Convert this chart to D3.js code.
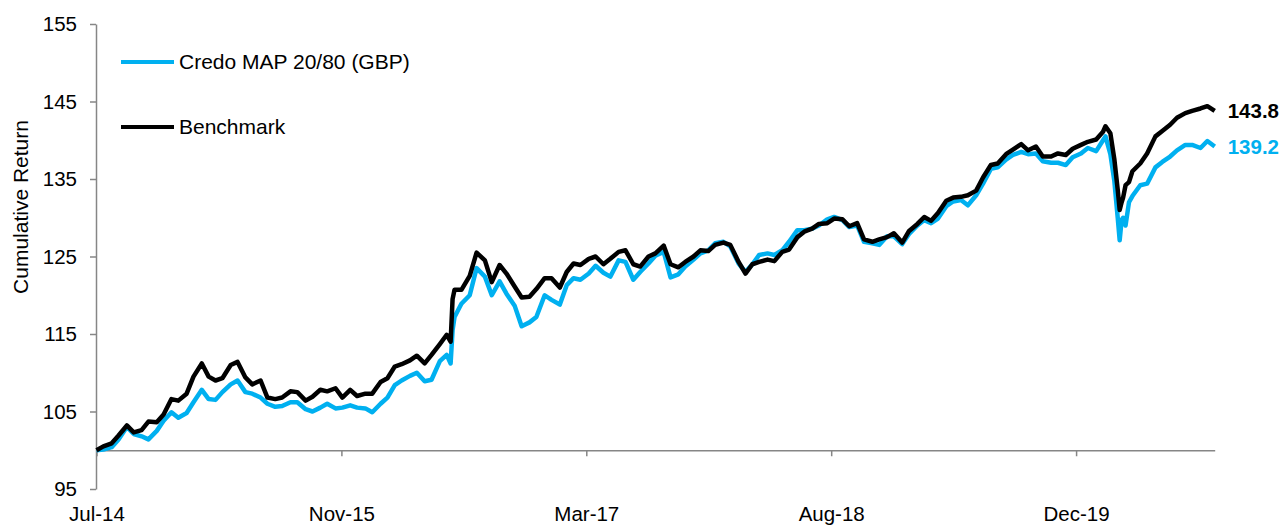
<!DOCTYPE html>
<html>
<head>
<meta charset="utf-8">
<script src="https://cdn.jsdelivr.net/npm/d3@7"></script>
<style>
  body { margin: 0; background: #fff; }
  svg { display: block; font-family: "Liberation Sans", Arial, sans-serif; }
</style>
</head>
<body>
<main></main>
<script>
// semi-monthly observations, with a few extra days around Brexit and the 2020 sell-off
const dates = [
  "2014-07-01","2014-07-15","2014-08-01","2014-08-15","2014-09-01","2014-09-15","2014-10-01","2014-10-15","2014-11-01","2014-11-15","2014-12-01","2014-12-15",
  "2015-01-01","2015-01-15","2015-02-01","2015-02-15","2015-03-01","2015-03-15","2015-04-01","2015-04-15","2015-05-01","2015-05-15","2015-06-01","2015-06-15",
  "2015-07-01","2015-07-15","2015-08-01","2015-08-15","2015-09-01","2015-09-15","2015-10-01","2015-10-15","2015-11-01","2015-11-15","2015-12-01","2015-12-15",
  "2016-01-01","2016-01-15","2016-02-01","2016-02-15","2016-03-01","2016-03-15","2016-04-01","2016-04-15","2016-05-01","2016-05-15","2016-06-01","2016-06-15",
  "2016-06-23","2016-06-27",
  "2016-07-01","2016-07-15","2016-08-01","2016-08-15","2016-09-01","2016-09-15","2016-10-01","2016-10-15","2016-11-01","2016-11-15","2016-12-01","2016-12-15",
  "2017-01-01","2017-01-15","2017-02-01","2017-02-15","2017-03-01","2017-03-15","2017-04-01","2017-04-15","2017-05-01","2017-05-15","2017-06-01","2017-06-15",
  "2017-07-01","2017-07-15","2017-08-01","2017-08-15","2017-09-01","2017-09-15","2017-10-01","2017-10-15","2017-11-01","2017-11-15","2017-12-01","2017-12-15",
  "2018-01-01","2018-01-15","2018-02-01","2018-02-15","2018-03-01","2018-03-15","2018-04-01","2018-04-15","2018-05-01","2018-05-15","2018-06-01","2018-06-15",
  "2018-07-01","2018-07-15","2018-08-01","2018-08-15","2018-09-01","2018-09-15","2018-10-01","2018-10-15","2018-11-01","2018-11-15","2018-12-01","2018-12-15",
  "2019-01-01","2019-01-15","2019-02-01","2019-02-15","2019-03-01","2019-03-15","2019-04-01","2019-04-15","2019-05-01","2019-05-15","2019-06-01","2019-06-15",
  "2019-07-01","2019-07-15","2019-08-01","2019-08-15","2019-09-01","2019-09-15","2019-10-01","2019-10-15","2019-11-01","2019-11-15","2019-12-01","2019-12-15",
  "2020-01-01","2020-01-15","2020-02-01","2020-02-15","2020-02-20","2020-03-01","2020-03-09","2020-03-16","2020-03-20","2020-03-24","2020-03-27",
  "2020-04-01","2020-04-08","2020-04-15","2020-05-01","2020-05-15","2020-06-01","2020-06-15","2020-07-01","2020-07-15","2020-08-01","2020-08-15",
  "2020-09-01","2020-09-15","2020-09-30"
];

const fund = [
  100.0, 100.1, 100.4, 101.4, 103.0, 102.1, 101.8, 101.4, 102.5, 103.8, 104.9, 104.2,
  104.8, 106.2, 107.8, 106.6, 106.5, 107.5, 108.5, 109.0, 107.5, 107.3, 106.8, 106.0,
  105.6, 105.7, 106.2, 106.2, 105.3, 105.0, 105.5, 106.0, 105.4, 105.5, 105.8, 105.5,
  105.4, 104.9, 106.0, 106.8, 108.4, 109.0, 109.6, 110.0, 108.9, 109.1, 111.5, 112.3,
  111.2, 115.5,
  117.2, 118.9, 120.0, 123.5, 122.4, 120.0, 121.8, 120.2, 118.6, 116.0, 116.5, 117.2,
  120.0, 119.4, 118.8, 121.3, 122.2, 122.0, 122.8, 123.8, 122.9, 122.4, 124.5, 124.3,
  122.0, 123.0, 124.1, 125.1, 125.6, 122.3, 122.7, 123.7, 124.6, 125.4, 125.8, 126.7,
  126.9, 126.3, 124.1, 123.0, 124.0, 125.2, 125.4, 125.2, 125.8, 126.9, 128.4, 128.4,
  128.6, 129.0, 129.8, 130.1, 129.7, 128.8, 129.0, 126.9, 126.7, 126.5, 127.6, 127.6,
  126.6, 127.9, 129.0, 129.7, 129.3, 129.9, 131.5, 132.1, 132.3, 131.6, 132.9, 134.4,
  136.3, 136.5, 137.5, 138.1, 138.5, 138.2, 138.3, 137.3, 137.1, 137.1, 136.8, 137.8,
  138.3, 139.0, 138.6, 140.0, 140.5, 138.2, 134.8, 130.0, 127.1, 129.7, 130.0,
  129.0, 132.0, 132.8, 134.2, 134.4, 136.5, 137.2, 137.9, 138.7, 139.4, 139.4,
  139.0, 139.9, 139.2
];

const benchmark = [
  100.0, 100.5, 100.9, 101.9, 103.2, 102.3, 102.6, 103.7, 103.6, 104.6, 106.6, 106.4,
  107.3, 109.5, 111.2, 109.5, 109.0, 109.3, 111.0, 111.4, 109.4, 108.5, 109.0, 106.8,
  106.6, 106.8, 107.6, 107.5, 106.4, 106.9, 107.8, 107.6, 108.0, 106.8, 107.8, 107.0,
  107.3, 107.3, 108.8, 109.3, 110.8, 111.1, 111.6, 112.2, 111.2, 112.3, 113.7, 114.9,
  114.0, 119.5,
  120.7, 120.7, 122.5, 125.5, 124.5, 121.7, 123.9, 122.8, 121.1, 119.7, 119.8, 120.8,
  122.2, 122.2, 121.0, 123.0, 124.1, 123.9, 124.7, 125.0, 124.0, 124.7, 125.6, 125.8,
  124.0, 123.7, 125.0, 125.4, 126.4, 124.0, 123.6, 124.3, 125.0, 125.8, 125.7, 126.5,
  126.8, 126.5, 124.3, 122.8, 124.0, 124.3, 124.6, 124.4, 125.6, 125.9, 127.5, 128.2,
  128.6, 129.2, 129.3, 129.9, 129.8, 128.9, 129.3, 127.2, 126.9, 127.2, 127.5, 128.0,
  126.8, 128.3, 129.2, 130.1, 129.6, 130.6, 132.2, 132.6, 132.7, 132.9, 133.5, 135.2,
  136.8, 137.0, 138.2, 138.8, 139.5, 138.7, 139.2, 137.9, 137.9, 138.3, 138.1, 138.9,
  139.4, 139.8, 140.1, 141.1, 141.8, 140.9, 137.6, 133.6, 131.0, 132.0, 132.6,
  134.2, 134.6, 136.0, 137.0, 138.3, 140.5, 141.2, 142.0, 142.9, 143.5, 143.8,
  144.1, 144.4, 143.8
];

const seriesNames = ["Credo MAP 20/80 (GBP)", "Benchmark"];
const yTicks = [95, 105, 115, 125, 135, 145, 155];
const xTickDates = ["2014-07-01", "2015-11-13", "2017-03-27", "2018-08-09", "2019-12-22"];
const xTickLabels = ["Jul-14", "Nov-15", "Mar-17", "Aug-18", "Dec-19"];

const w = 1282;
const h = 526;
const blue = "#00b0f0";
const axisColor = "#868686";
const parse = d3.timeParse("%Y-%m-%d");

const x = d3.scaleTime()
  .domain([parse("2014-07-01"), parse("2020-09-30")])
  .range([96.5, 1214.7]);

const y = d3.scaleLinear()
  .domain([95, 155])
  .range([489, 24]);

const svg = d3.select("main")
  .append("svg")
  .attr("width", w)
  .attr("height", h);

// y axis
const yAxis = svg.append("g")
  .attr("transform", "translate(96,0)")
  .call(d3.axisLeft(y).tickValues(yTicks).tickSize(6).tickSizeOuter(0).tickPadding(13));

// x axis crosses at 100, labels sit low near the bottom edge
const xAxis = svg.append("g")
  .attr("transform", `translate(0,${y(100)})`)
  .call(d3.axisBottom(x)
    .tickValues(xTickDates.map(parse))
    .tickFormat((d, i) => xTickLabels[i])
    .tickSize(6)
    .tickSizeOuter(0)
    .tickPadding(50));

[yAxis, xAxis].forEach(g => {
  g.select(".domain").attr("stroke", axisColor).attr("stroke-width", 1.5);
  g.selectAll(".tick line").attr("stroke", axisColor).attr("stroke-width", 1.5);
  g.selectAll(".tick text")
    .attr("fill", "#000")
    .style("font-size", "20.5px")
    .style("font-family", "'Liberation Sans', Arial, sans-serif");
});

svg.append("text")
  .attr("transform", "translate(28,207) rotate(-90)")
  .attr("text-anchor", "middle")
  .style("font-size", "21px")
  .attr("fill", "#000")
  .text("Cumulative Return");

const line = d3.line()
  .x(d => x(d.date))
  .y(d => y(d.value));

const fundData = dates.map((d, i) => ({ date: parse(d), value: fund[i] }));
const benchData = dates.map((d, i) => ({ date: parse(d), value: benchmark[i] }));

svg.append("path")
  .datum(fundData)
  .attr("fill", "none")
  .attr("stroke", blue)
  .attr("stroke-width", 4.5)
  .attr("stroke-linejoin", "round")
  .attr("d", line);

svg.append("path")
  .datum(benchData)
  .attr("fill", "none")
  .attr("stroke", "#000")
  .attr("stroke-width", 4.5)
  .attr("stroke-linejoin", "round")
  .attr("d", line);

// end value labels
const last = dates.length - 1;
[[fund[last], blue], [benchmark[last], "#000"]].forEach(([v, c]) => {
  svg.append("text")
    .attr("x", x(parse(dates[last])) + 13)
    .attr("y", y(v))
    .attr("dy", "0.35em")
    .attr("fill", c)
    .style("font-size", "20.5px")
    .style("font-weight", "bold")
    .text(v.toFixed(1));
});

// legend
const legend = svg.append("g");
[[seriesNames[0], blue, 62], [seriesNames[1], "#000", 127]].forEach(([name, c, ly]) => {
  legend.append("line")
    .attr("x1", 121).attr("x2", 174)
    .attr("y1", ly).attr("y2", ly)
    .attr("stroke", c)
    .attr("stroke-width", 4);
  legend.append("text")
    .attr("x", 179)
    .attr("y", ly)
    .attr("dy", "0.35em")
    .attr("fill", "#000")
    .style("font-size", "21px")
    .text(name);
});
</script>
</body>
</html>
